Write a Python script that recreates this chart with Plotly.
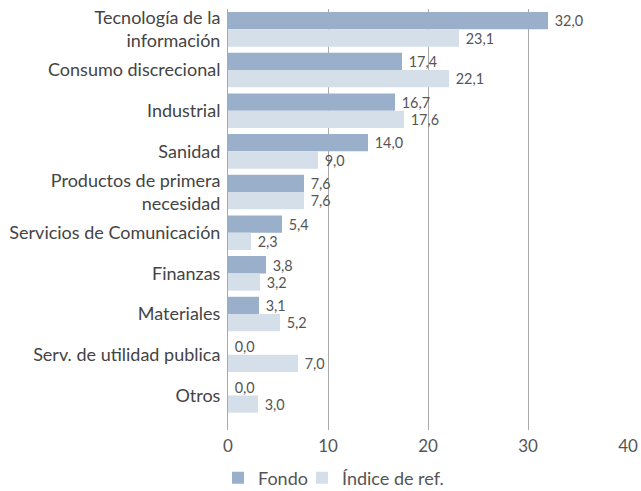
import plotly.graph_objects as go

categories = ["Tecnología de la<br>información", "Consumo discrecional", "Industrial", "Sanidad",
              "Productos de primera<br>necesidad", "Servicios de Comunicación", "Finanzas",
              "Materiales", "Serv. de utilidad publica", "Otros"]
fondo = [32.0, 17.4, 16.7, 14.0, 7.6, 5.4, 3.8, 3.1, 0.0, 0.0]
indice = [23.1, 22.1, 17.6, 9.0, 7.6, 2.3, 3.2, 5.2, 7.0, 3.0]
x_ticks = [0, 10, 20, 30, 40]

FONT = "Lato"
fig = go.Figure()
fig.add_trace(go.Bar(y=categories, x=fondo, orientation="h", name="Fondo",
                     marker=dict(color="#9AAFCA", line=dict(width=0)),
                     texttemplate=" %{x:.1f}", textposition="outside", cliponaxis=False,
                     textfont=dict(size=15, color="#555555", family=FONT),
                     legend="legend"))
fig.add_trace(go.Bar(y=categories, x=indice, orientation="h", name="Índice de ref.",
                     marker=dict(color="#D5DFE9", line=dict(width=0)),
                     texttemplate=" %{x:.1f}", textposition="outside", cliponaxis=False,
                     textfont=dict(size=15, color="#555555", family=FONT),
                     legend="legend2"))

legend_font = dict(size=18, color="#555555", family=FONT)
fig.update_layout(
    width=641, height=491,
    margin=dict(l=228, r=13, t=9, b=61, autoexpand=False),
    barmode="group", bargap=0.15, bargroupgap=0,
    separators=",.",
    plot_bgcolor="white", paper_bgcolor="white",
    font=dict(family=FONT, size=18, color="#444444"),
    showlegend=True,
    legend=dict(orientation="h", x=-0.025, xanchor="left", y=-0.07, yanchor="top",
                font=legend_font, bgcolor="rgba(0,0,0,0)"),
    legend2=dict(orientation="h", x=0.185, xanchor="left", y=-0.07, yanchor="top",
                 font=legend_font, bgcolor="rgba(0,0,0,0)"),
    xaxis=dict(range=[0, 40], tickvals=x_ticks, showgrid=True, gridcolor="#AAAAAA",
               gridwidth=1, zeroline=False, showline=False, automargin=False,
               ticklabelstandoff=4,
               tickfont=dict(size=17, color="#555555"), ticks=""),
    yaxis=dict(range=[9.85, -0.5], showline=True, linecolor="#AAAAAA", linewidth=1,
               automargin=False, ticks="", ticklabelstandoff=3,
               tickfont=dict(size=18, color="#444444")),
)
fig.write_html("out.html", config={"displayModeBar": False},
               post_script="document.body.style.margin='0';")
